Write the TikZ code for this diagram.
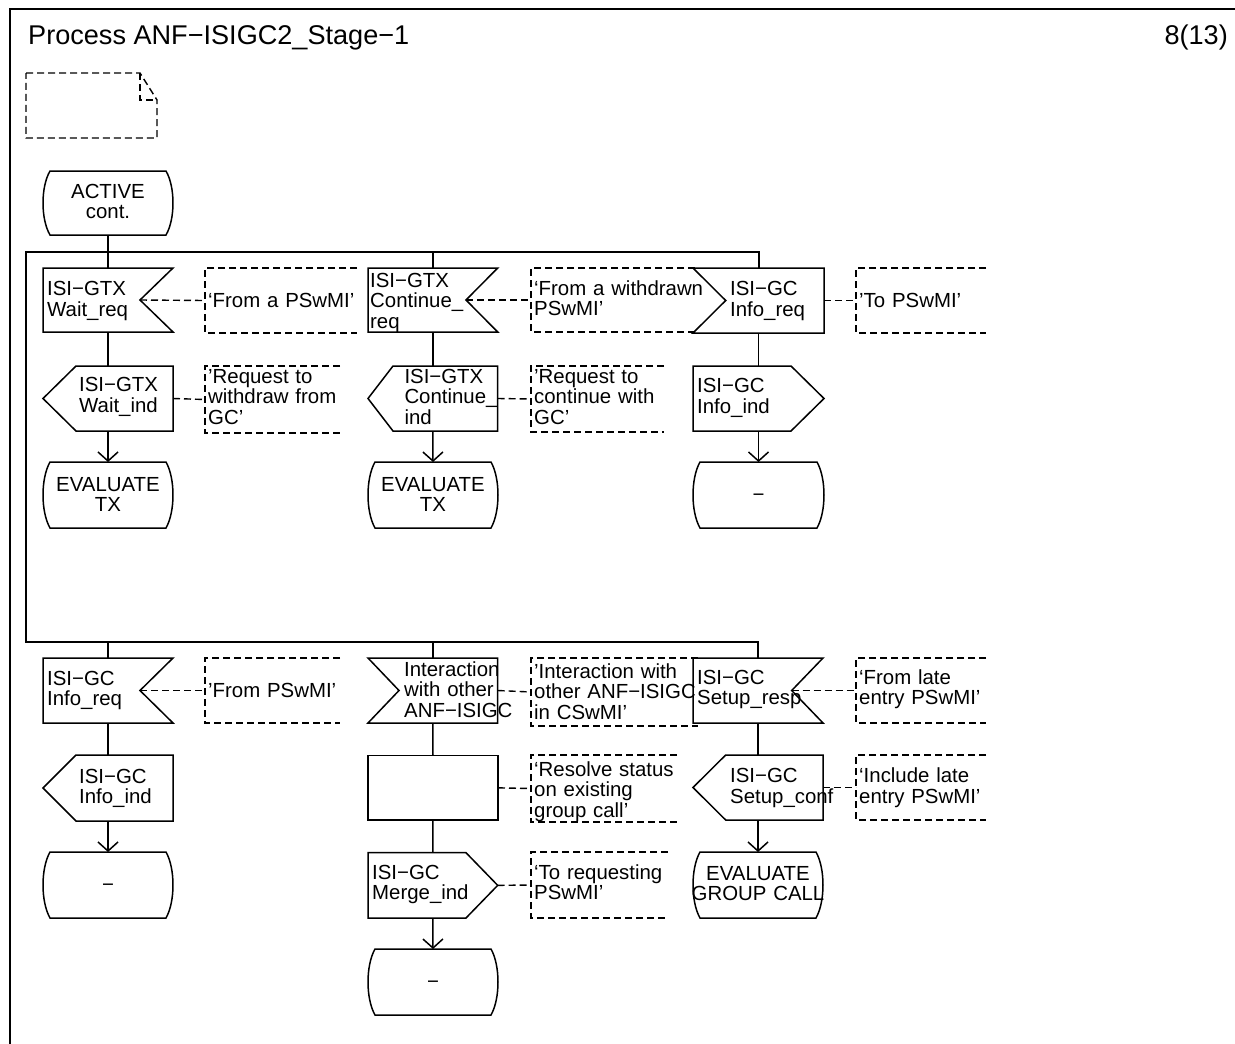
\documentclass[tikz,border=0pt]{standalone}
\usepackage{fontspec}
\setmainfont{Liberation Sans}
\usetikzlibrary{arrows.meta}

\tikzset{
 shp/.style={draw=black, line width=1.5pt, line join=miter},
 loopln/.style={draw=black, line width=2pt},
 flow/.style={draw=black, line width=1.5pt},
 flowarr/.style={flow, -{Straight Barb[length=9pt,width=20pt,line width=1.5pt]}},
 cmt/.style={draw=black, line width=1.4pt, dash pattern=on 7pt off 4pt},
 frm/.style={draw=black, line width=2pt},
 txt/.style={font=\fontsize{20.4}{20.5}\selectfont, inner sep=0pt, anchor=base west, text width=220pt, align=left},
 ctxt/.style={font=\fontsize{20.4}{20.5}\selectfont, inner sep=0pt, anchor=base, text width=160pt, align=center},
 hdr/.style={font=\fontsize{27.1}{30}\selectfont, inner sep=0pt},
}

% input, notch on right: name, x1, y1, x2, y2, notch x
\newcommand\sdlInR[6]{%
 \draw[shp] (#2,#3) -- (#4,#3) -- (#6,{(#3+#5)/2}) -- (#4,#5) -- (#2,#5) -- cycle;
 \coordinate (#1-n) at ({(#2+#4)/2},#3);
 \coordinate (#1-s) at ({(#2+#4)/2},#5);
 \coordinate (#1-e) at (#6,{(#3+#5)/2});}
% input, notch on left
\newcommand\sdlInL[6]{%
 \draw[shp] (#2,#3) -- (#4,#3) -- (#4,#5) -- (#2,#5) -- (#6,{(#3+#5)/2}) -- cycle;
 \coordinate (#1-n) at ({(#2+#4)/2},#3);
 \coordinate (#1-s) at ({(#2+#4)/2},#5);
 \coordinate (#1-e) at (#4,{(#3+#5)/2});}
% output pointing left: name, tip x, y1, x2, y2, vertex x
\newcommand\sdlOutL[6]{%
 \draw[shp] (#6,#3) -- (#4,#3) -- (#4,#5) -- (#6,#5) -- (#2,{(#3+#5)/2}) -- cycle;
 \coordinate (#1-n) at ({(#2+#4)/2},#3);
 \coordinate (#1-s) at ({(#2+#4)/2},#5);
 \coordinate (#1-e) at (#4,{(#3+#5)/2});}
% output pointing right: name, x1, y1, tip x, y2, vertex x
\newcommand\sdlOutR[6]{%
 \draw[shp] (#2,#3) -- (#6,#3) -- (#4,{(#3+#5)/2}) -- (#6,#5) -- (#2,#5) -- cycle;
 \coordinate (#1-n) at ({(#2+#4)/2},#3);
 \coordinate (#1-s) at ({(#2+#4)/2},#5);
 \coordinate (#1-e) at (#4,{(#3+#5)/2});}
% state: name, x1, y1, x2, y2
\newcommand\sdlState[5]{%
 \draw[shp] ({#2+7},#3) -- ({#4-7},#3)
   .. controls ({#4+2.33},{#3+(#5-#3)/4}) and ({#4+2.33},{#5-(#5-#3)/4}) .. ({#4-7},#5)
   -- ({#2+7},#5)
   .. controls ({#2-2.33},{#5-(#5-#3)/4}) and ({#2-2.33},{#3+(#5-#3)/4}) .. ({#2+7},#3) -- cycle;
 \coordinate (#1-n) at ({(#2+#4)/2},#3);
 \coordinate (#1-s) at ({(#2+#4)/2},#5);}
% task
\newcommand\sdlTask[5]{%
 \draw[shp] (#2,#3) rectangle (#4,#5);
 \coordinate (#1-n) at ({(#2+#4)/2},#3);
 \coordinate (#1-s) at ({(#2+#4)/2},#5);
 \coordinate (#1-e) at (#4,{(#3+#5)/2});}
% comment bracket: name, x, y1, y2, xend
\newcommand\sdlCmt[5]{%
 \draw[cmt] (#5,#3) -- (#2,#3) -- (#2,#4) -- (#5,#4);
 \coordinate (#1-w) at (#2,{(#3+#4)/2});}

\begin{document}
\begin{tikzpicture}[x=1pt,y=-1pt]
\path[use as bounding box] (0,0) rectangle (1235,1044);

% frame
\draw[frm] (10,1050) -- (10,9) -- (1240,9);
\node[hdr, anchor=base west] (title) at (28,45) {Process ANF−ISIGC2\_Stage−1};
\node[hdr, anchor=base east] (page) at (1228,45) {8(13)};

% text symbol (page corner)
\draw[cmt] (26,73) -- (140,73) -- (157,100) -- (157,138) -- (26,138) -- cycle;
\draw[cmt] (140,73) -- (140,100) -- (157,100);

% start state
\sdlState{act}{43}{171}{173}{235}
\node[ctxt] (t-act) at (108,198.3) {ACTIVE\\cont.};

% ---------------- row 1 ----------------
\sdlInR{in1}{43}{268}{173}{332}{140}
\node[txt] (t-in1) at (47,295.7) {ISI−GTX\\Wait\_req};
\sdlOutL{out1}{43}{366}{173}{431}{76}
\node[txt] (t-out1) at (79,391.7) {ISI−GTX\\Wait\_ind};
\sdlState{st1}{43}{462}{173}{528}
\node[ctxt] (t-st1) at (108,491) {EVALUATE\\TX};

\sdlInR{in2}{368}{268}{497.7}{332}{466}
\node[txt] (t-in2) at (370,287.3) {ISI−GTX\\Continue\_\\req};
\sdlOutL{out2}{368}{366}{497.7}{431}{393}
\node[txt] (t-out2) at (404.3,383.3) {ISI−GTX\\Continue\_\\ind};
\sdlState{st2}{368}{462}{498}{528}
\node[ctxt] (t-st2) at (433,491) {EVALUATE\\TX};

\sdlInL{in3}{693}{268}{824}{333}{725.7}
\node[txt] (t-in3) at (730,295.7) {ISI−GC\\Info\_req};
\sdlOutR{out3}{693}{366}{824}{431}{791}
\node[txt] (t-out3) at (697,392.5) {ISI−GC\\Info\_ind};
\sdlState{st3}{693}{462}{824}{528}
\node[ctxt] (t-st3) at (758.5,501) {−};

% comments row 1
\sdlCmt{c1}{205}{268}{333}{357}
\node[txt] (t-c1) at (208,307) {‘From a PSwMI’};
\sdlCmt{c2}{205}{366}{433}{340}
\node[txt] (t-c2) at (208,383.3) {’Request to\\withdraw from\\GC’};
\sdlCmt{c3}{531}{268}{332}{695}
\node[txt] (t-c3) at (534,295) {‘From a withdrawn\\PSwMI’};
\sdlCmt{c4}{531}{366}{432}{664}
\node[txt] (t-c4) at (534,383.3) {’Request to\\continue with\\GC’};
\sdlCmt{c5}{856}{268}{333}{986}
\node[txt] (t-c5) at (859,307) {’To PSwMI’};

% ---------------- row 2 ----------------
\sdlInR{in4}{43}{658}{173}{723}{140}
\node[txt] (t-in4) at (47,685) {ISI−GC\\Info\_req};
\sdlOutL{out4}{43}{755}{173}{821}{76}
\node[txt] (t-out4) at (79,783.3) {ISI−GC\\Info\_ind};
\sdlState{st4}{43}{852}{173}{918}
\node[ctxt] (t-st4) at (108,891) {−};

\sdlInL{in5}{368}{658}{497.7}{723}{399}
\node[txt] (t-in5) at (404,676) {Interaction\\with other\\ANF−ISIGC};
\sdlTask{tk5}{368}{755.7}{498}{820}
\sdlOutR{out5}{368}{852.7}{497.7}{918}{466}
\node[txt] (t-out5) at (372,879) {ISI−GC\\Merge\_ind};
\sdlState{st5}{368}{949}{498}{1015}
\node[ctxt] (t-st5) at (433,988.7) {−};

\sdlInR{in6}{693}{658}{823}{723}{791.7}
\node[txt] (t-in6) at (697,684.3) {ISI−GC\\Setup\_resp};
\sdlOutL{out6}{693}{755}{823}{820}{725.7}
\node[txt] (t-out6) at (730,782.7) {ISI−GC\\Setup\_conf};
\sdlState{st6}{693}{852}{823}{918}
\node[ctxt] (t-st6) at (758,880) {EVALUATE\\GROUP CALL};

% comments row 2
\sdlCmt{c6}{205}{658}{723}{340}
\node[txt] (t-c6) at (208,697) {’From PSwMI’};
\sdlCmt{c7}{531}{658}{726}{698}
\node[txt] (t-c7) at (534,678.3) {’Interaction with\\other ANF−ISIGC\\in CSwMI’};
\sdlCmt{c8}{531}{755}{822}{677}
\node[txt] (t-c8) at (534,776) {‘Resolve status\\on existing\\group call’};
\sdlCmt{c9}{531}{852}{918}{668}
\node[txt] (t-c9) at (534,879.3) {‘To requesting\\PSwMI’};
\sdlCmt{c10}{856}{658}{723}{986}
\node[txt] (t-c10) at (859,684.3) {‘From late\\entry PSwMI’};
\sdlCmt{c11}{856}{755}{820}{986}
\node[txt] (t-c11) at (859,782.5) {‘Include late\\entry PSwMI’};

% ---------------- loop lines ----------------
\coordinate (jTL) at (26,252);
\coordinate (jBL) at (26,642);
\draw[loopln] (in3-n) |- (jTL) -- (jBL) -| (in6-n);
\draw[flow] (in2-n) -- (in2-n |- jTL);
\draw[flow] (in5-n) -- (in5-n |- jBL);
\draw[flow] (in4-n) -- (in4-n |- jBL);

% ---------------- flow connectors ----------------
\draw[flow] (act-s) -- (in1-n);
\draw[flow] (in1-s) -- (out1-n);
\draw[flowarr] (out1-s) -- (st1-n);
\draw[flow] (in2-s) -- (out2-n);
\draw[flowarr] (out2-s) -- (st2-n);
\draw[flow] (in3-s) -- (out3-n);
\draw[flowarr] (out3-s) -- (st3-n);

\draw[flow] (in4-s) -- (out4-n);
\draw[flowarr] (out4-s) -- (st4-n);
\draw[flow] (in5-s) -- (tk5-n);
\draw[flow] (tk5-s) -- (out5-n);
\draw[flowarr] (out5-s) -- (st5-n);
\draw[flow] (in6-s) -- (out6-n);
\draw[flowarr] (out6-s) -- (st6-n);

% ---------------- comment connectors ----------------
\draw[cmt] (in1-e) -- (c1-w);
\draw[cmt] (out1-e) -- (c2-w);
\draw[cmt] (in2-e) -- (c3-w);
\draw[cmt] (out2-e) -- (c4-w);
\draw[cmt] (in3-e) -- (c5-w);
\draw[cmt] (in4-e) -- (c6-w);
\draw[cmt] (in5-e) -- (c7-w);
\draw[cmt] (tk5-e) -- (c8-w);
\draw[cmt] (out5-e) -- (c9-w);
\draw[cmt] (in6-e) -- (c10-w);
\draw[cmt] (out6-e) -- (c11-w);
\end{tikzpicture}
\end{document}
